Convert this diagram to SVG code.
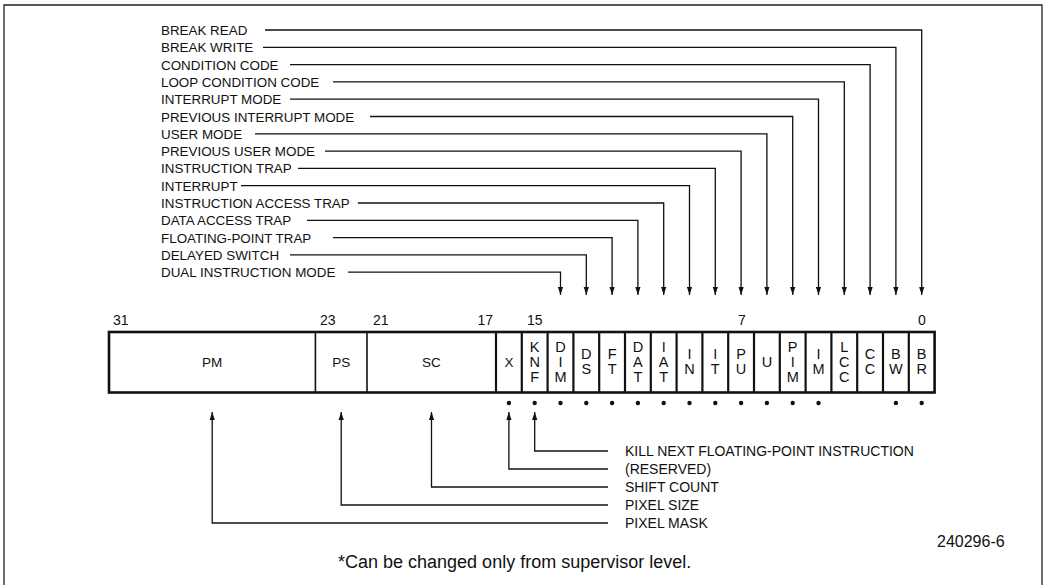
<svg xmlns="http://www.w3.org/2000/svg" width="1043" height="585" viewBox="0 0 1043 585">
<defs>
<style>
.lbl{font-family:"Liberation Sans",Arial,sans-serif;font-size:13.4px;fill:#111}
.blbl{font-family:"Liberation Sans",Arial,sans-serif;font-size:14px;fill:#111}
.num{font-family:"Liberation Sans",Arial,sans-serif;font-size:14px;fill:#111}
.fld{font-family:"Liberation Sans",Arial,sans-serif;font-size:13.5px;fill:#111;text-anchor:middle}
.bit{font-family:"Liberation Sans",Arial,sans-serif;font-size:14.5px;fill:#111;text-anchor:middle}
.note{font-family:"Liberation Sans",Arial,sans-serif;font-size:18px;fill:#111}
.fig{font-family:"Liberation Sans",Arial,sans-serif;font-size:16px;fill:#111}
.cn{fill:none;stroke:#111;stroke-width:1.3}
.div{stroke:#111;stroke-width:2.2}
.divt{stroke:#111;stroke-width:1.6}
.dot{fill:#111}
</style>
<marker id="ad" markerUnits="userSpaceOnUse" markerWidth="8" markerHeight="6" viewBox="0 0 8 6" refX="8" refY="3" orient="auto">
<path d="M0,0.4 L8,3 L0,5.6 z" fill="#111"/>
</marker>
</defs>
<rect width="1043" height="585" fill="#fff"/>
<path d="M4,590 V5 H1042 V590" fill="none" stroke="#222" stroke-width="1.3"/>

<g id="register">
<rect x="109" y="332" width="825.6" height="60.5" fill="none" stroke="#111" stroke-width="2.6"/>
<line class="divt" x1="315.4" y1="332" x2="315.4" y2="392.5"/>
<line class="divt" x1="367" y1="332" x2="367" y2="392.5"/>
<line class="div" x1="496" y1="332" x2="496" y2="392.5"/>
<line class="div" x1="521.8" y1="332" x2="521.8" y2="392.5"/>
<line class="div" x1="547.6" y1="332" x2="547.6" y2="392.5"/>
<line class="div" x1="573.4" y1="332" x2="573.4" y2="392.5"/>
<line class="div" x1="599.2" y1="332" x2="599.2" y2="392.5"/>
<line class="div" x1="625" y1="332" x2="625" y2="392.5"/>
<line class="div" x1="650.8" y1="332" x2="650.8" y2="392.5"/>
<line class="div" x1="676.6" y1="332" x2="676.6" y2="392.5"/>
<line class="div" x1="702.4" y1="332" x2="702.4" y2="392.5"/>
<line class="div" x1="728.2" y1="332" x2="728.2" y2="392.5"/>
<line class="div" x1="754" y1="332" x2="754" y2="392.5"/>
<line class="div" x1="779.8" y1="332" x2="779.8" y2="392.5"/>
<line class="div" x1="805.6" y1="332" x2="805.6" y2="392.5"/>
<line class="div" x1="831.4" y1="332" x2="831.4" y2="392.5"/>
<line class="div" x1="857.2" y1="332" x2="857.2" y2="392.5"/>
<line class="div" x1="883" y1="332" x2="883" y2="392.5"/>
<line class="div" x1="908.8" y1="332" x2="908.8" y2="392.5"/>
<text class="num" x="113" y="325">31</text>
<text class="num" x="320" y="325">23</text>
<text class="num" x="373" y="325">21</text>
<text class="num" x="493" y="325" text-anchor="end">17</text>
<text class="num" x="527" y="325">15</text>
<text class="num" x="742" y="325" text-anchor="middle">7</text>
<text class="num" x="922" y="325" text-anchor="middle">0</text>
</g>

<g id="f-PM"><text class="fld" x="212.2" y="367">PM</text></g>
<g id="f-PS"><text class="fld" x="341.2" y="367">PS</text></g>
<g id="f-SC"><text class="fld" x="431.5" y="367">SC</text></g>
<g id="f-X"><text class="fld" x="508.9" y="367">X</text><circle class="dot" cx="508.9" cy="403" r="2.2"/></g>
<g id="f-KNF"><text class="bit"><tspan x="534.7" y="351.7">K</tspan><tspan x="534.7" y="366.7">N</tspan><tspan x="534.7" y="381.7">F</tspan></text><circle class="dot" cx="534.7" cy="403" r="2.2"/></g>
<g id="f-DIM"><text class="bit"><tspan x="560.5" y="351.7">D</tspan><tspan x="560.5" y="366.7">I</tspan><tspan x="560.5" y="381.7">M</tspan></text><circle class="dot" cx="560.5" cy="403" r="2.2"/></g>
<g id="f-DS"><text class="bit"><tspan x="586.3" y="359.2">D</tspan><tspan x="586.3" y="374.2">S</tspan></text><circle class="dot" cx="586.3" cy="403" r="2.2"/></g>
<g id="f-FT"><text class="bit"><tspan x="612.1" y="359.2">F</tspan><tspan x="612.1" y="374.2">T</tspan></text><circle class="dot" cx="612.1" cy="403" r="2.2"/></g>
<g id="f-DAT"><text class="bit"><tspan x="637.9" y="351.7">D</tspan><tspan x="637.9" y="366.7">A</tspan><tspan x="637.9" y="381.7">T</tspan></text><circle class="dot" cx="637.9" cy="403" r="2.2"/></g>
<g id="f-IAT"><text class="bit"><tspan x="663.7" y="351.7">I</tspan><tspan x="663.7" y="366.7">A</tspan><tspan x="663.7" y="381.7">T</tspan></text><circle class="dot" cx="663.7" cy="403" r="2.2"/></g>
<g id="f-IN"><text class="bit"><tspan x="689.5" y="359.2">I</tspan><tspan x="689.5" y="374.2">N</tspan></text><circle class="dot" cx="689.5" cy="403" r="2.2"/></g>
<g id="f-IT"><text class="bit"><tspan x="715.3" y="359.2">I</tspan><tspan x="715.3" y="374.2">T</tspan></text><circle class="dot" cx="715.3" cy="403" r="2.2"/></g>
<g id="f-PU"><text class="bit"><tspan x="741.1" y="359.2">P</tspan><tspan x="741.1" y="374.2">U</tspan></text><circle class="dot" cx="741.1" cy="403" r="2.2"/></g>
<g id="f-U"><text class="bit" x="766.9" y="366.7">U</text><circle class="dot" cx="766.9" cy="403" r="2.2"/></g>
<g id="f-PIM"><text class="bit"><tspan x="792.7" y="351.7">P</tspan><tspan x="792.7" y="366.7">I</tspan><tspan x="792.7" y="381.7">M</tspan></text><circle class="dot" cx="792.7" cy="403" r="2.2"/></g>
<g id="f-IM"><text class="bit"><tspan x="818.5" y="359.2">I</tspan><tspan x="818.5" y="374.2">M</tspan></text><circle class="dot" cx="818.5" cy="403" r="2.2"/></g>
<g id="f-LCC"><text class="bit"><tspan x="844.3" y="351.7">L</tspan><tspan x="844.3" y="366.7">C</tspan><tspan x="844.3" y="381.7">C</tspan></text></g>
<g id="f-CC"><text class="bit"><tspan x="870.1" y="359.2">C</tspan><tspan x="870.1" y="374.2">C</tspan></text></g>
<g id="f-BW"><text class="bit"><tspan x="895.9" y="359.2">B</tspan><tspan x="895.9" y="374.2">W</tspan></text><circle class="dot" cx="895.9" cy="403" r="2.2"/></g>
<g id="f-BR"><text class="bit"><tspan x="921.7" y="359.2">B</tspan><tspan x="921.7" y="374.2">R</tspan></text><circle class="dot" cx="921.7" cy="403" r="2.2"/></g>

<g id="top-labels">
<text class="lbl" x="161" y="35">BREAK READ</text>
<text class="lbl" x="161" y="52.3">BREAK WRITE</text>
<text class="lbl" x="161" y="69.6">CONDITION CODE</text>
<text class="lbl" x="161" y="86.9">LOOP CONDITION CODE</text>
<text class="lbl" x="161" y="104.2">INTERRUPT MODE</text>
<text class="lbl" x="161" y="121.5">PREVIOUS INTERRUPT MODE</text>
<text class="lbl" x="161" y="138.8">USER MODE</text>
<text class="lbl" x="161" y="156.1">PREVIOUS USER MODE</text>
<text class="lbl" x="161" y="173.4">INSTRUCTION TRAP</text>
<text class="lbl" x="161" y="190.7">INTERRUPT</text>
<text class="lbl" x="161" y="208">INSTRUCTION ACCESS TRAP</text>
<text class="lbl" x="161" y="225.3">DATA ACCESS TRAP</text>
<text class="lbl" x="161" y="242.6">FLOATING-POINT TRAP</text>
<text class="lbl" x="161" y="259.9">DELAYED SWITCH</text>
<text class="lbl" x="161" y="277.2">DUAL INSTRUCTION MODE</text>
</g>

<g id="bottom-labels">
<text class="blbl" x="625" y="456">KILL NEXT FLOATING-POINT INSTRUCTION</text>
<text class="blbl" x="625" y="474">(RESERVED)</text>
<text class="blbl" x="625" y="492">SHIFT COUNT</text>
<text class="blbl" x="625" y="510">PIXEL SIZE</text>
<text class="blbl" x="625" y="528">PIXEL MASK</text>
</g>

<g id="connectors">
<path class="cn" marker-end="url(#ad)" d="M265,30 H921.7 V295"/>
<path class="cn" marker-end="url(#ad)" d="M263,47.3 H895.9 V295"/>
<path class="cn" marker-end="url(#ad)" d="M290,64.6 H870.1 V295"/>
<path class="cn" marker-end="url(#ad)" d="M333,81.9 H844.3 V295"/>
<path class="cn" marker-end="url(#ad)" d="M290,99.2 H818.5 V295"/>
<path class="cn" marker-end="url(#ad)" d="M370,116.5 H792.7 V295"/>
<path class="cn" marker-end="url(#ad)" d="M255,133.8 H766.9 V295"/>
<path class="cn" marker-end="url(#ad)" d="M325,151.1 H741.1 V295"/>
<path class="cn" marker-end="url(#ad)" d="M298,168.4 H715.3 V295"/>
<path class="cn" marker-end="url(#ad)" d="M241,185.7 H689.5 V295"/>
<path class="cn" marker-end="url(#ad)" d="M358,203 H663.7 V295"/>
<path class="cn" marker-end="url(#ad)" d="M307,220.3 H637.9 V295"/>
<path class="cn" marker-end="url(#ad)" d="M333,237.6 H612.1 V295"/>
<path class="cn" marker-end="url(#ad)" d="M290,254.9 H586.3 V295"/>
<path class="cn" marker-end="url(#ad)" d="M348,272.2 H560.5 V295"/>
<path class="cn" marker-end="url(#ad)" d="M608,451 H534.7 V412"/>
<path class="cn" marker-end="url(#ad)" d="M608,469 H508.9 V412"/>
<path class="cn" marker-end="url(#ad)" d="M608,487 H431.5 V412"/>
<path class="cn" marker-end="url(#ad)" d="M608,505 H341.2 V412"/>
<path class="cn" marker-end="url(#ad)" d="M608,523 H212.2 V412"/>
</g>

<g id="notes">
<text class="fig" x="937" y="547">240296-6</text>
<text class="note" x="338" y="568">*Can be changed only from supervisor level.</text>
</g>
</svg>
